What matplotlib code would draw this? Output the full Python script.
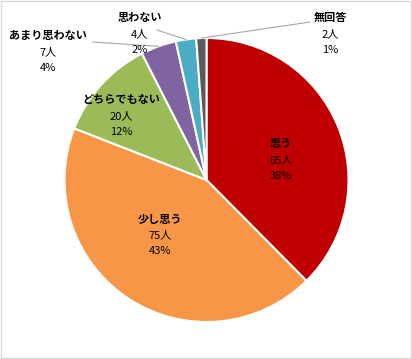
import matplotlib.pyplot as plt
import numpy as np
from matplotlib.patches import Rectangle

plt.rcParams['font.family'] = ['Noto Sans CJK JP', 'DejaVu Sans']

labels = ['思う', '少し思う', 'どちらでもない', 'あまり思わない', '思わない', '無回答']
counts = [65, 75, 20, 7, 4, 2]
percents = ['38%', '43%', '12%', '4%', '2%', '1%']
colors = ['#C00000', '#F79646', '#9BBB59', '#8064A2', '#4BACC6', '#595959']

# label anchor positions in pixels (x, y from top)
label_pos = [(281, 160), (160, 235), (121, 116), (48, 52), (140, 34), (330, 34)]

fig = plt.figure(figsize=(4.12, 3.59), dpi=100)
ax = fig.add_axes([0, 0, 1, 1])

cx, cy, r = 206.5, 359 - 180, 142
wedges, _ = ax.pie(counts, colors=colors, startangle=90, counterclock=False,
                   center=(cx, cy), radius=r, frame=True,
                   wedgeprops=dict(edgecolor='white', linewidth=1.5))
ax.set_xlim(0, 412)
ax.set_ylim(0, 359)
ax.set_aspect('equal')
ax.axis('off')

# leader lines for the small slices
total = sum(counts)
cum = np.cumsum([0] + counts)
line_ends = [None, None, None, (93, 42), (157, 30), (310, 22)]
for i, end in enumerate(line_ends):
    if end is None:
        continue
    mid = 90 - 360 * (cum[i] + counts[i] / 2) / total
    px = cx + r * np.cos(np.radians(mid))
    py = cy + r * np.sin(np.radians(mid))
    ax.plot([end[0], px], [359 - end[1], py], color='#A6A6A6', lw=0.8)

for i, (x, y) in enumerate(label_pos):
    y = 359 - y
    ax.text(x, y + 16, labels[i], ha='center', va='center', fontsize=8,
            fontweight='bold', color='black')
    ax.text(x, y, f'{counts[i]}人', ha='center', va='center', fontsize=8,
            color='black')
    ax.text(x, y - 16, percents[i], ha='center', va='center', fontsize=8,
            color='black')

fig.patches.append(Rectangle((0.003, 0.003), 0.994, 0.994, transform=fig.transFigure,
                             fill=False, edgecolor='#D9D9D9', lw=1))

fig.savefig('out.png', dpi=100)
